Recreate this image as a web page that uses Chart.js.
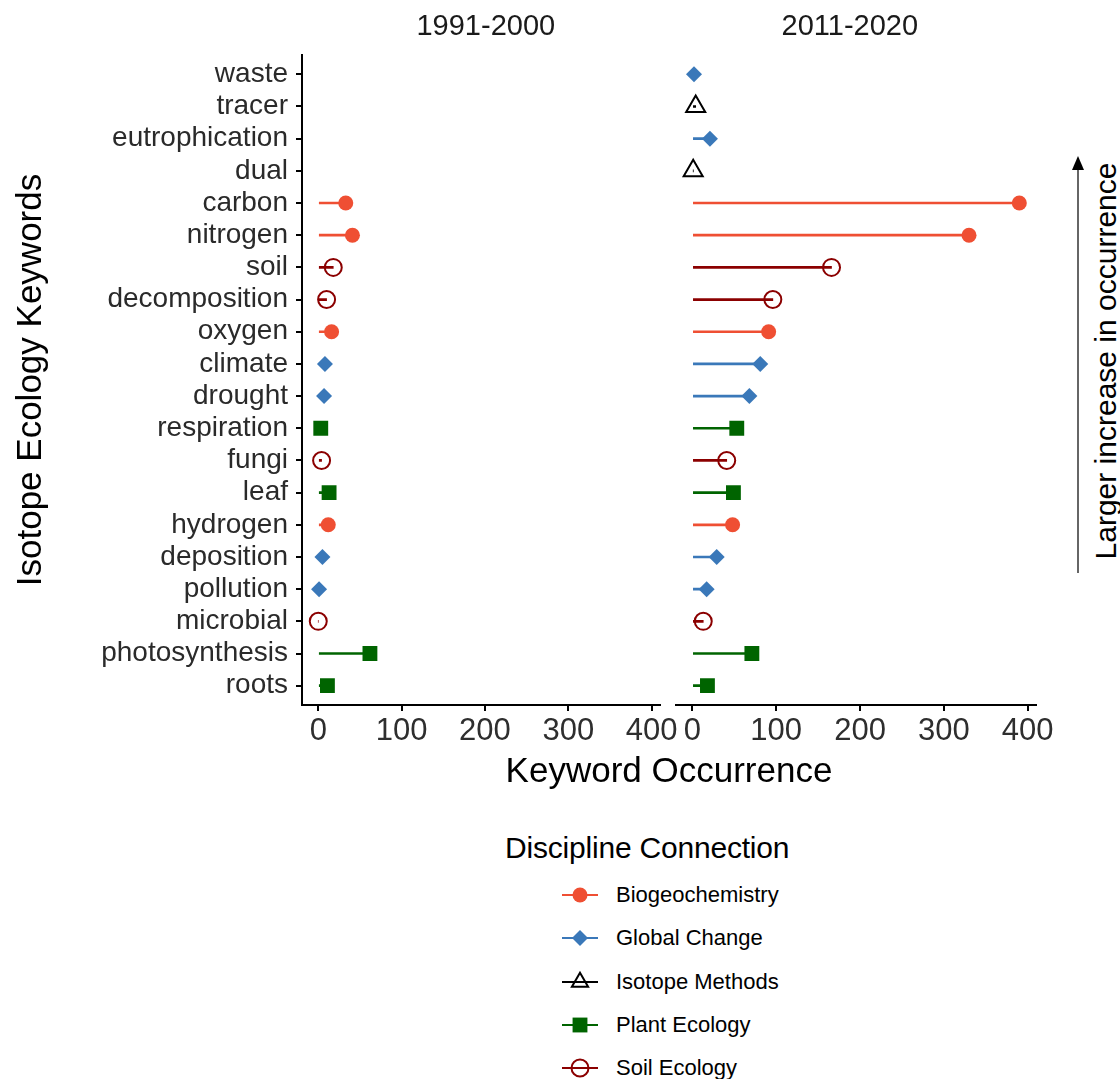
<!DOCTYPE html>
<html>
<head>
<meta charset="utf-8">
<script src="https://cdn.jsdelivr.net/npm/chart.js@4.4.1/dist/chart.umd.min.js"></script>
<style>
  body { margin: 0; background: #fff; width: 1120px; height: 1079px; position: relative; overflow: hidden;
         font-family: "Liberation Sans", Arial, sans-serif; }
  canvas { position: absolute; }
  #left { left: 0; top: 0; }
  #right { left: 662px; top: 0; }
  .abs { position: absolute; white-space: nowrap; color: #000; }
  #xtitle { left: 469px; top: 750px; width: 400px; text-align: center; font-size: 35px; line-height: 40px; }
  #sidetext { left: 856px; top: 341px; width: 500px; height: 40px; line-height: 40px; text-align: center;
              font-size: 30px; transform: rotate(-90deg); }
  #arrow { left: 1068px; top: 150px; }
  #legtitle { left: 505px; top: 830px; font-size: 30px; line-height: 36px; letter-spacing: -0.2px; }
  .legtext { left: 616px; font-size: 22px; line-height: 26px; }
</style>
</head>
<body>
<canvas id="left" width="680" height="755"></canvas>
<canvas id="right" width="394" height="755"></canvas>
<div class="abs" id="xtitle">Keyword Occurrence</div>
<div class="abs" id="sidetext">Larger increase in occurrence</div>
<svg class="abs" id="arrow" width="20" height="430">
  <line x1="10" y1="18" x2="10" y2="423" stroke="#333" stroke-width="1.5"/>
  <polygon points="4,20 16,20 10,6" fill="#000"/>
</svg>
<div class="abs" id="legtitle">Discipline Connection</div>
<div id="legend"></div>

<script>
// -------------------- data --------------------
const keywords = ['waste', 'tracer', 'eutrophication', 'dual', 'carbon', 'nitrogen', 'soil',
  'decomposition', 'oxygen', 'climate', 'drought', 'respiration', 'fungi', 'leaf', 'hydrogen',
  'deposition', 'pollution', 'microbial', 'photosynthesis', 'roots'];
const discipline = ['Global Change', 'Isotope Methods', 'Global Change', 'Isotope Methods',
  'Biogeochemistry', 'Biogeochemistry', 'Soil Ecology', 'Soil Ecology', 'Biogeochemistry',
  'Global Change', 'Global Change', 'Plant Ecology', 'Soil Ecology', 'Plant Ecology',
  'Biogeochemistry', 'Global Change', 'Global Change', 'Soil Ecology', 'Plant Ecology', 'Plant Ecology'];
const occ1991 = [null, null, null, null, 33, 41, 18, 10, 16, 8, 7, 3, 4, 13, 12, 5, 1, 0, 62, 11];
const occ2011 = [2, 4, 21, 1, 390, 330, 166, 96, 91, 81, 68, 53, 41, 49, 48, 29, 17, 13, 71, 18];
const xTicks = [0, 100, 200, 300, 400];
const disciplines = ['Biogeochemistry', 'Global Change', 'Isotope Methods', 'Plant Ecology', 'Soil Ecology'];

const styles = {
  'Biogeochemistry': { color: '#EF4F33', shape: 'circle', r: 7.5, fill: true },
  'Global Change':   { color: '#3A78B9', shape: 'rectRot', r: 8, fill: true },
  'Isotope Methods': { color: '#000000', shape: 'triangle', r: 11, fill: false },
  'Plant Ecology':   { color: '#006400', shape: 'rect', r: 10.5, fill: true },
  'Soil Ecology':    { color: '#8B0000', shape: 'circle', r: 8.5, fill: false }
};

Chart.defaults.font.family = '"Liberation Sans", Arial, sans-serif';

// panel title drawn above the plot area
const panelTitle = {
  id: 'panelTitle',
  afterDraw(chart, args, opts) {
    const { ctx, chartArea } = chart;
    ctx.save();
    ctx.font = '29px "Liberation Sans", Arial, sans-serif';
    ctx.fillStyle = '#1a1a1a';
    ctx.textAlign = 'center';
    ctx.textBaseline = 'middle';
    ctx.fillText(opts.text, (chartArea.left + chartArea.right) / 2 + opts.shift, 27);
    ctx.restore();
  }
};

function axisLines() {
  return { display: true, offset: false, drawOnChartArea: false, drawTicks: true, tickLength: 6,
           color: '#000', lineWidth: 2 };
}

function makePanel(id, values, title, isLeft) {
  const idx = keywords.map((k, i) => i).filter(i => values[i] !== null);
  const st = idx.map(i => styles[discipline[i]]);
  return new Chart(document.getElementById(id), {
    type: 'bar',
    data: {
      datasets: [
        {
          type: 'bar', order: 1,
          data: idx.map(i => ({ y: i, x: [0, values[i]] })),
          backgroundColor: st.map(s => s.color),
          barThickness: 2, borderWidth: 0
        },
        {
          type: 'scatter', order: 0,
          data: idx.map(i => ({ x: values[i], y: i })),
          pointStyle: st.map(s => s.shape),
          pointRadius: st.map(s => s.r),
          pointHoverRadius: st.map(s => s.r),
          pointBackgroundColor: st.map(s => s.fill ? s.color : 'rgba(0,0,0,0)'),
          pointBorderColor: st.map(s => s.color),
          pointBorderWidth: st.map(s => s.fill ? 0 : 2)
        }
      ]
    },
    options: {
      indexAxis: 'y',
      animation: false,
      responsive: false,
      events: [],
      layout: { padding: { top: 55, bottom: 0, left: isLeft ? 0 : 14, right: 20 } },
      plugins: { legend: { display: false }, tooltip: { enabled: false },
                 panelTitle: { text: title, shift: isLeft ? 5 : -6 } },
      scales: {
        x: {
          type: 'linear', min: -19.5, max: 409.5, offset: false,
          afterBuildTicks: s => { s.ticks = xTicks.map(v => ({ value: v })); },
          afterFit: s => { s.height = 50; },
          grid: axisLines(),
          border: { display: true, color: '#000', width: 2 },
          ticks: { font: { size: 31 }, color: '#2e2e2e', padding: 2, maxRotation: 0, autoSkip: false }
        },
        y: {
          type: 'linear', reverse: true, min: -0.6, max: keywords.length - 0.4, offset: false,
          display: isLeft,
          afterBuildTicks: s => { s.ticks = keywords.map((k, i) => ({ value: i })); },
          afterFit: s => { s.width = isLeft ? 302 : 0; },
          grid: axisLines(),
          border: { display: true, color: '#000', width: 2 },
          ticks: { callback: v => keywords[v], font: { size: 28 }, color: '#2a2a2a', padding: 8, autoSkip: false },
          title: { display: true, text: 'Isotope Ecology Keywords', font: { size: 35 }, color: '#000',
                   padding: { top: 10, bottom: 0 } }
        }
      }
    },
    plugins: [panelTitle]
  });
}

makePanel('left', occ1991, '1991-2000', true);
makePanel('right', occ2011, '2011-2020', false);

// -------------------- legend --------------------
function drawIcon(ctx, s, x, y) {
  ctx.fillStyle = s.fill ? s.color : 'rgba(0,0,0,0)';
  ctx.strokeStyle = s.color;
  ctx.lineWidth = 2;
  ctx.beginPath();
  if (s.shape === 'circle') {
    ctx.arc(x, y, s.r, 0, Math.PI * 2);
  } else if (s.shape === 'rectRot') {
    ctx.moveTo(x, y - s.r); ctx.lineTo(x + s.r, y); ctx.lineTo(x, y + s.r); ctx.lineTo(x - s.r, y);
    ctx.closePath();
  } else if (s.shape === 'rect') {
    const h = s.r * Math.SQRT1_2;
    ctx.rect(x - h, y - h, 2 * h, 2 * h);
  } else if (s.shape === 'triangle') {
    const r = s.r * 0.85;
    ctx.moveTo(x, y - r);
    ctx.lineTo(x + r * 0.866, y + r * 0.5);
    ctx.lineTo(x - r * 0.866, y + r * 0.5);
    ctx.closePath();
  }
  ctx.fill();
  if (!s.fill) ctx.stroke();
}

const legend = document.getElementById('legend');
const legY = [895, 938, 982, 1025, 1068];
disciplines.forEach((d, k) => {
  const s = styles[d];
  const c = document.createElement('canvas');
  c.width = 44; c.height = 30;
  c.style.left = '558px';
  c.style.top = (legY[k] - 15) + 'px';
  legend.appendChild(c);
  const ctx = c.getContext('2d');
  ctx.fillStyle = s.color;
  ctx.fillRect(4, 14, 36, 2);
  drawIcon(ctx, s, 22, 15);
  const t = document.createElement('div');
  t.className = 'abs legtext';
  t.style.top = (legY[k] - 13) + 'px';
  t.textContent = d;
  legend.appendChild(t);
});
</script>
</body>
</html>
